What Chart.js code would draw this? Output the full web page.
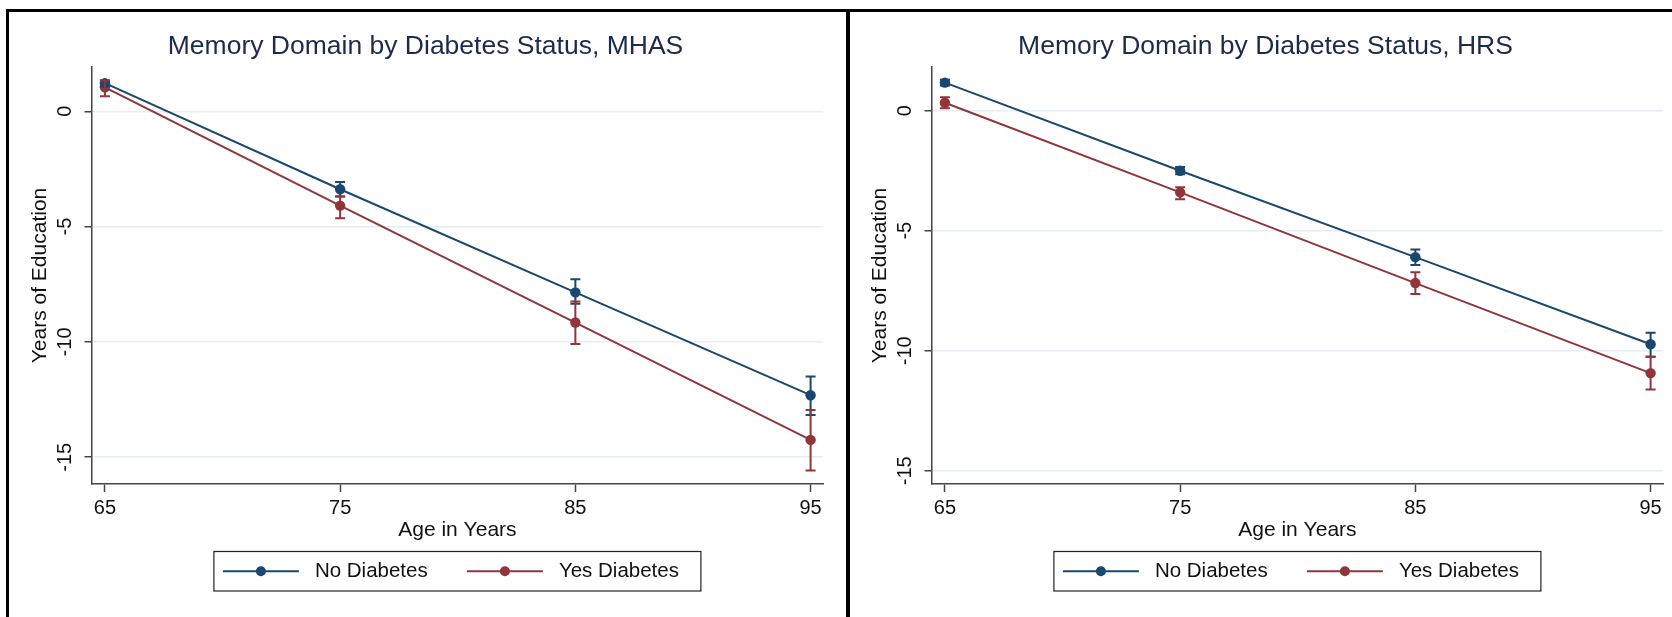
<!DOCTYPE html>
<html lang="en">
<head>
<meta charset="UTF-8">
<title>Memory Domain by Diabetes Status</title>
<script src="https://cdn.jsdelivr.net/npm/chart.js"></script>
<style>
  html, body { margin: 0; padding: 0; background: #fff; }
  #page { position: relative; width: 1672px; height: 617px; overflow: hidden; }
  .panel { position: absolute; top: 0; width: 833px; height: 617px; }
  .rule { position: absolute; background: #000; z-index: 2; }
</style>
</head>
<body>
<div id="page">
  <div class="panel" style="left:9px"><canvas id="mhas" width="833" height="617"></canvas></div>
  <div class="panel" style="left:849px"><canvas id="hrs" width="833" height="617"></canvas></div>
  <div class="rule" style="left:6px;top:9px;width:1666px;height:3px"></div>
  <div class="rule" style="left:6px;top:9px;width:3px;height:608px"></div>
  <div class="rule" style="left:846px;top:9px;width:4px;height:608px"></div>
</div>

<script>
// data
const ages = [65, 75, 85, 95];
const xTicks = [65, 75, 85, 95];
const yTicks = [0, -5, -10, -15];
const seriesNames = ['No Diabetes', 'Yes Diabetes'];

// MHAS
const mhasNo   = [1.22, -3.38, -7.85, -12.31];
const mhasNoLo = [1.08, -3.70, -8.35, -13.17];
const mhasNoHi = [1.34, -3.07, -7.28, -11.50];
const mhasYes   = [1.04, -4.09, -9.16, -14.25];
const mhasYesLo = [0.65, -4.64, -10.09, -15.58];
const mhasYesHi = [1.33, -3.70, -8.25, -12.95];

// HRS
const hrsNo   = [1.17, -2.50, -6.10, -9.73];
const hrsNoLo = [1.05, -2.65, -6.43, -10.25];
const hrsNoHi = [1.29, -2.35, -5.78, -9.25];
const hrsYes   = [0.33, -3.40, -7.18, -10.93];
const hrsYesLo = [0.10, -3.69, -7.64, -11.61];
const hrsYesHi = [0.56, -3.19, -6.73, -10.25];

const blue = '#1a476f';
const red = '#90353b';
const FONT = '"Liberation Sans", Arial, sans-serif';

Chart.defaults.font.family = FONT;
Chart.defaults.color = '#111';

// vertical confidence bars with caps
const errorBars = {
  id: 'errorBars',
  afterDatasetsDraw(chart) {
    const { ctx, scales: { x, y } } = chart;
    chart.data.datasets.forEach(ds => {
      ctx.save();
      ctx.strokeStyle = ds.borderColor;
      ctx.lineWidth = 2;
      ds.lo.forEach((lo, j) => {
        const px = x.getPixelForValue(ds.data[j].x);
        const top = y.getPixelForValue(ds.hi[j]);
        const bot = y.getPixelForValue(lo);
        ctx.beginPath();
        ctx.moveTo(px, top); ctx.lineTo(px, bot);
        ctx.moveTo(px - 5, top); ctx.lineTo(px + 5, top);
        ctx.moveTo(px - 5, bot); ctx.lineTo(px + 5, bot);
        ctx.stroke();
      });
      ctx.restore();
    });
  }
};

// rotated y tick labels (stata style)
const yTickLabels = {
  id: 'yTickLabels',
  afterDraw(chart) {
    const { ctx, scales: { y } } = chart;
    ctx.save();
    ctx.fillStyle = '#111';
    ctx.font = '20px ' + FONT;
    ctx.textAlign = 'center';
    ctx.textBaseline = 'middle';
    yTicks.forEach(v => {
      ctx.save();
      ctx.translate(y.right - 26, y.getPixelForValue(v));
      ctx.rotate(-Math.PI / 2);
      ctx.fillText(String(v), 0, 0);
      ctx.restore();
    });
    ctx.restore();
  }
};

// boxed legend under the axis title
const boxLegend = {
  id: 'boxLegend',
  afterDraw(chart) {
    const { ctx, chartArea } = chart;
    const cx = (chartArea.left + chartArea.right) / 2;
    const w = 487, h = 39.5;
    const left = cx - w / 2, top = 551.5;
    const cy = top + h / 2;
    const offsets = [9, 253];
    ctx.save();
    ctx.strokeStyle = '#222';
    ctx.lineWidth = 1.2;
    ctx.strokeRect(left, top, w, h);
    ctx.font = '20.5px ' + FONT;
    ctx.textAlign = 'left';
    ctx.textBaseline = 'middle';
    chart.data.datasets.forEach((ds, i) => {
      const x0 = left + offsets[i];
      ctx.strokeStyle = ds.borderColor;
      ctx.lineWidth = 2;
      ctx.beginPath();
      ctx.moveTo(x0, cy); ctx.lineTo(x0 + 76, cy);
      ctx.stroke();
      ctx.fillStyle = ds.borderColor;
      ctx.beginPath();
      ctx.arc(x0 + 38, cy, 5, 0, Math.PI * 2);
      ctx.fill();
      ctx.fillStyle = '#111';
      ctx.fillText(ds.label, x0 + 92, cy);
    });
    ctx.restore();
  }
};

function series(label, color, vals, lo, hi) {
  return {
    label: label,
    data: ages.map((a, i) => ({ x: a, y: vals[i] })),
    lo: lo,
    hi: hi,
    borderColor: color,
    backgroundColor: color,
    borderWidth: 2,
    pointRadius: 5.2,
    pointBorderWidth: 0,
    pointHoverRadius: 5.2,
    tension: 0
  };
}

function makeChart(id, title, no, noLo, noHi, yes, yesLo, yesHi, yMin, yMax) {
  return new Chart(document.getElementById(id), {
    type: 'line',
    data: {
      datasets: [
        series(seriesNames[0], blue, no, noLo, noHi),
        series(seriesNames[1], red, yes, yesLo, yesHi)
      ]
    },
    options: {
      responsive: false,
      animation: false,
      layout: { padding: { left: 18.7, right: 18.7, top: 0, bottom: 0 } },
      plugins: {
        legend: { display: false },
        tooltip: { enabled: false },
        title: {
          display: true,
          text: title,
          color: '#1c2a4e',
          font: { size: 26.5, weight: 'normal' },
          padding: { top: 30.8, bottom: 4.4 }
        }
      },
      scales: {
        x: {
          type: 'linear',
          min: 64.43,
          max: 95.54,
          afterBuildTicks: s => { s.ticks = xTicks.map(v => ({ value: v })); },
          afterFit: s => { s.height = 133; },
          grid: { drawOnChartArea: false, tickLength: 8, tickColor: '#444', tickWidth: 1.5 },
          border: { color: '#444', width: 1.5 },
          ticks: { color: '#111', font: { size: 20 }, padding: 4.8, maxRotation: 0, autoSkip: false },
          title: { display: true, text: 'Age in Years', color: '#111', font: { size: 21 }, padding: { top: 0, bottom: 74.4 } }
        },
        y: {
          min: yMin,
          max: yMax,
          afterBuildTicks: s => { s.ticks = yTicks.map(v => ({ value: v })); },
          afterFit: s => { s.width = 63.8; },
          grid: { color: '#e6eef1', lineWidth: 1.5, tickLength: 7, tickColor: '#444', tickWidth: 1.5 },
          border: { color: '#444', width: 1.5 },
          ticks: { display: false },
          title: { display: true, text: 'Years of Education', color: '#111', font: { size: 21 }, padding: { top: 0, bottom: 0 } }
        }
      }
    },
    plugins: [errorBars, yTickLabels, boxLegend]
  });
}

makeChart('mhas', 'Memory Domain by Diabetes Status, MHAS',
  mhasNo, mhasNoLo, mhasNoHi, mhasYes, mhasYesLo, mhasYesHi, -16.16, 1.92);
makeChart('hrs', 'Memory Domain by Diabetes Status, HRS',
  hrsNo, hrsNoLo, hrsNoHi, hrsYes, hrsYesLo, hrsYesHi, -15.55, 1.82);
</script>
</body>
</html>
